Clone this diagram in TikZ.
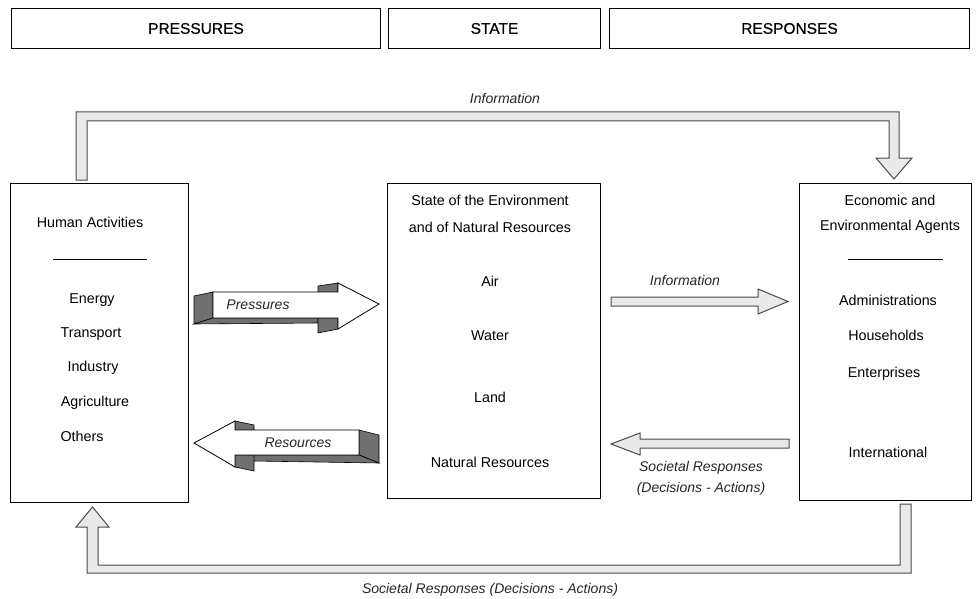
\documentclass[tikz,border=0pt]{standalone}
\usepackage{fontspec}
\setmainfont{Liberation Sans}
\newfontfamily\headfont[FakeBold=0.5]{Liberation Sans}
\definecolor{arrowfill}{HTML}{E9E9E9}
\definecolor{arrowline}{HTML}{4A4A4A}
\definecolor{darkface}{HTML}{707070}
\begin{document}
\begin{tikzpicture}[x=1pt,y=-1pt,
  box/.style={draw, line width=1pt, inner sep=0, anchor=north west},
  head/.style={draw, line width=1pt, inner sep=0, anchor=north west, minimum height=40pt, font=\headfont\fontsize{15.5}{18}\selectfont},
  txt/.style={font=\fontsize{14.3}{17}\selectfont, inner sep=0},
  lab/.style={font=\fontsize{14}{17}\selectfont\itshape, inner sep=0, text=black!85},
  hollow/.style={fill=arrowfill, draw=arrowline, line width=1pt, line join=miter},
  face/.style={fill=white, draw=black, line width=0.8pt, line join=miter},
  darkp/.style={fill=darkface, draw=black, line width=0.6pt, line join=miter},
  rule/.style={draw, line width=1pt}]
\useasboundingbox (0,0) rectangle (979,599);

% header boxes
\node[head, minimum width=369pt] (hp) at (11,8) {PRESSURES};
\node[head, minimum width=212pt] (hs) at (388,8) {STATE};
\node[head, minimum width=360pt] (hr) at (609,8) {RESPONSES};

% main boxes
\node[box, minimum width=178pt, minimum height=319pt] (hum) at (10,183) {};
\node[box, minimum width=213pt, minimum height=315pt] (st) at (387,183) {};
\node[box, minimum width=172pt, minimum height=317pt] (ag) at (799,183) {};

% left box text
\node[txt] (hatitle) at (90,222) {Human Activities};
\coordinate (hl1) at (53,259);
\coordinate (hl2) at (147,259);
\draw[rule] (hl1) -- (hl2);
\node[txt] (energy) at (92,300) {Energy};
\node[txt] (transport) at (91,334) {Transport};
\node[txt] (industry) at (93,368) {Industry};
\node[txt] (agri) at (95,403) {Agriculture};
\node[txt] (others) at (82,436) {Others};

% middle box text
\node[txt] (st1) at (490,200) {State of the Environment};
\node[txt] (st2) at (490,227) {and of Natural Resources};
\node[txt] (air) at (490,281) {Air};
\node[txt] (water) at (490,336) {Water};
\node[txt] (land) at (490,397) {Land};
\node[txt] (natres) at (490,462) {Natural Resources};

% right box text
\node[txt] (ag1) at (890,200) {Economic and};
\node[txt] (ag2) at (890,227) {Environmental Agents};
\coordinate (al1) at (848,259);
\coordinate (al2) at (943,259);
\draw[rule] (al1) -- (al2);
\node[txt] (adm) at (888,300) {Administrations};
\node[txt] (hh) at (886,335) {Households};
\node[txt] (ent) at (884,374) {Enterprises};
\node[txt] (intl) at (888,452) {International};

% top information arrow
\draw[hollow] (76,180) -- (76,112) -- (899,112) -- (899,158) -- (912,158) -- (894,179)
  -- (876,158) -- (889,158) -- (889,121) -- (87,121) -- (87,180) -- cycle;
\node[lab] (infotop) at (505,98) {Information};

% bottom societal responses arrow
\draw[hollow] (900,504) -- (911,504) -- (911,573) -- (87,573) -- (87,527) -- (76,527)
  -- (92.5,507) -- (109,527) -- (98,527) -- (98,565) -- (900,565) -- cycle;
\node[lab] (srbot) at (490,590) {Societal Responses (Decisions - Actions)};

% middle information arrow
\draw[hollow] (611,297) -- (758,297) -- (758,289) -- (788,301.5) -- (758,314) -- (758,306) -- (611,306) -- cycle;
\node[lab] (infomid) at (685,280) {Information};

% societal responses arrow
\draw[hollow] (789,439) -- (640,439) -- (640,433) -- (611,444) -- (640,455) -- (640,448) -- (789,448) -- cycle;
\node[lab] (sr1) at (701,468) {Societal Responses};
\node[lab] (sr2) at (701,489) {(Decisions - Actions)};

% Pressures 3D arrow
\draw[darkp] (194,296) -- (213,292) -- (213,318) -- (194,324) -- cycle;
\draw[darkp] (194,324) -- (213,318) -- (318,318) -- (318,323) -- cycle;
\draw[darkp] (318,293) -- (318,286) -- (338,283) -- (338,293) -- cycle;
\draw[darkp] (318,318) -- (338,318) -- (338,329) -- (318,333) -- cycle;
\draw[face] (213,292) -- (338,292) -- (338,283) -- (379,304) -- (338,329) -- (338,318) -- (213,318) -- cycle;
\node[lab] (press) at (258,305) {Pressures};

% Resources 3D arrow
\draw[darkp] (359,430) -- (379,435) -- (379,463) -- (359,455) -- cycle;
\draw[darkp] (235,455) -- (359,455) -- (379,463) -- (254,461) -- cycle;
\draw[darkp] (235,421) -- (254,425) -- (254,431) -- (235,431) -- cycle;
\draw[darkp] (235,455) -- (254,455) -- (254,471) -- (235,467) -- cycle;
\draw[face] (194,443) -- (235,421) -- (235,430) -- (359,430) -- (359,455) -- (235,455) -- (235,467) -- cycle;
\node[lab] (res) at (298,443) {Resources};
\end{tikzpicture}
\end{document}
